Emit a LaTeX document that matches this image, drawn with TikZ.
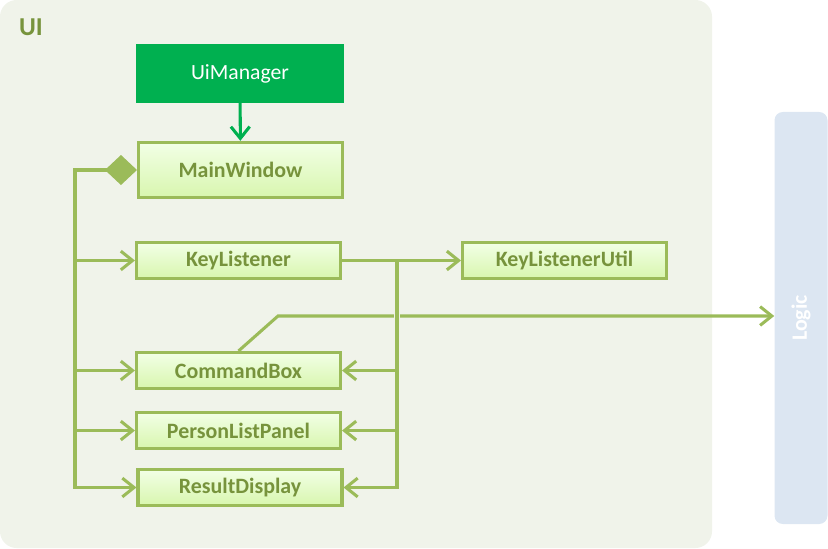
\documentclass[tikz,border=0pt]{standalone}
\usepackage{fontspec}
\setmainfont{Carlito}
\usepackage{tikz}
\usetikzlibrary{arrows.meta,positioning,backgrounds}
\definecolor{uibg}{HTML}{F0F3EA}
\definecolor{olivebd}{HTML}{9BBB59}
\definecolor{olivetx}{HTML}{77933C}
\definecolor{clstop}{HTML}{F2FFE6}
\definecolor{clsbot}{HTML}{D8F6AE}
\definecolor{mgrgreen}{HTML}{00B050}
\definecolor{logicbg}{HTML}{DCE6F2}

\begin{document}
\begin{tikzpicture}
				[x=0.03cm, y=-0.03cm, inner sep=0pt,
				uipanel/.style	= {rectangle, fill=uibg, rounded corners=0.5cm, minimum width=21.36cm, minimum height=16.44cm},
				logicbox/.style	= {rectangle, fill=logicbg, rounded corners=0.25cm, minimum width=1.59cm, minimum height=12.36cm},
				cls/.style		= {draw=olivebd, line width=2.6pt, top color=clstop, bottom color=clsbot, text=olivetx, font=\bfseries\fontsize{18.7}{21}\selectfont, minimum width=6.12cm, minimum height=1.08cm},
				bigcls/.style	= {cls, minimum height=1.66cm},
				mgr/.style		= {rectangle, fill=mgrgreen, text=white, font=\fontsize{18.5}{21}\selectfont, minimum width=6.24cm, minimum height=1.77cm},
				conn/.style		= {draw=olivebd, line width=2.6pt},
				open/.style		= {-{Straight Barb[length=10pt, width=16pt]}}]
				
				\useasboundingbox (0,0) rectangle (828,548);
				
				\node [uipanel]		at (356,274)						(ui)		{};
				\node [text=olivetx, font=\bfseries\fontsize{22}{24}\selectfont]	at (31,27)	(uilbl)	{UI};
				\node [logicbox]	at (801,318)						(logic)		{};
				\node [text=white, font=\bfseries\fontsize{18.7}{21}\selectfont, rotate=90]	at (logic.center)	(logiclbl)	{Logic};
				
				\node [mgr]			at (240,73.5)						(um)		{UiManager};
				\node [bigcls]		at (240.5,170)						(mw)		{MainWindow};
				\node [cls]			at (238.5,260.5)					(kl)		{KeyListener};
				\node [cls]			[right = 3.57cm of kl]				(klu)		{KeyListenerUtil};
				\node [cls]			at (238.5,370.5)					(cb)		{CommandBox};
				\node [cls]			[below = 0.63cm of cb]				(plp)		{PersonListPanel};
				\node [cls]			at (240,487.5)						(rd)		{ResultDisplay};
				
				\coordinate (lbus) at (75,170);
				\coordinate (rbus) at (397,260.5);
				\coordinate (bend) at (278,316);
				
				% uimanager owns the main window
				\draw [draw=mgrgreen, line width=2.6pt, open] (um) -- (mw);
				
				% main window composition
				\draw [conn, {Diamond[length=0.96cm, width=0.9cm]}-{Straight Barb[length=10pt, width=16pt]}] (mw.west) -- (lbus) |- (rd.west);
				\draw [conn, open] (lbus |- kl.west) -- (kl.west);
				\draw [conn, open] (lbus |- cb.west) -- (cb.west);
				\draw [conn, open] (lbus |- plp.west) -- (plp.west);
				
				% command box talks to logic
				\draw [conn, open] (cb.north) -- (bend) -- (logic.west |- bend);
				\draw [uibg, line width=5pt] ([yshift=3.5pt]rbus |- bend) -- ([yshift=-3.5pt]rbus |- bend);
				
				% key listener
				\draw [conn, open] (kl.east) -- (klu.west);
				\draw [conn, open] (rbus) |- (rd.east);
				\draw [conn, open] (rbus |- cb.east) -- (cb.east);
				\draw [conn, open] (rbus |- plp.east) -- (plp.east);
\end{tikzpicture}
\end{document}
